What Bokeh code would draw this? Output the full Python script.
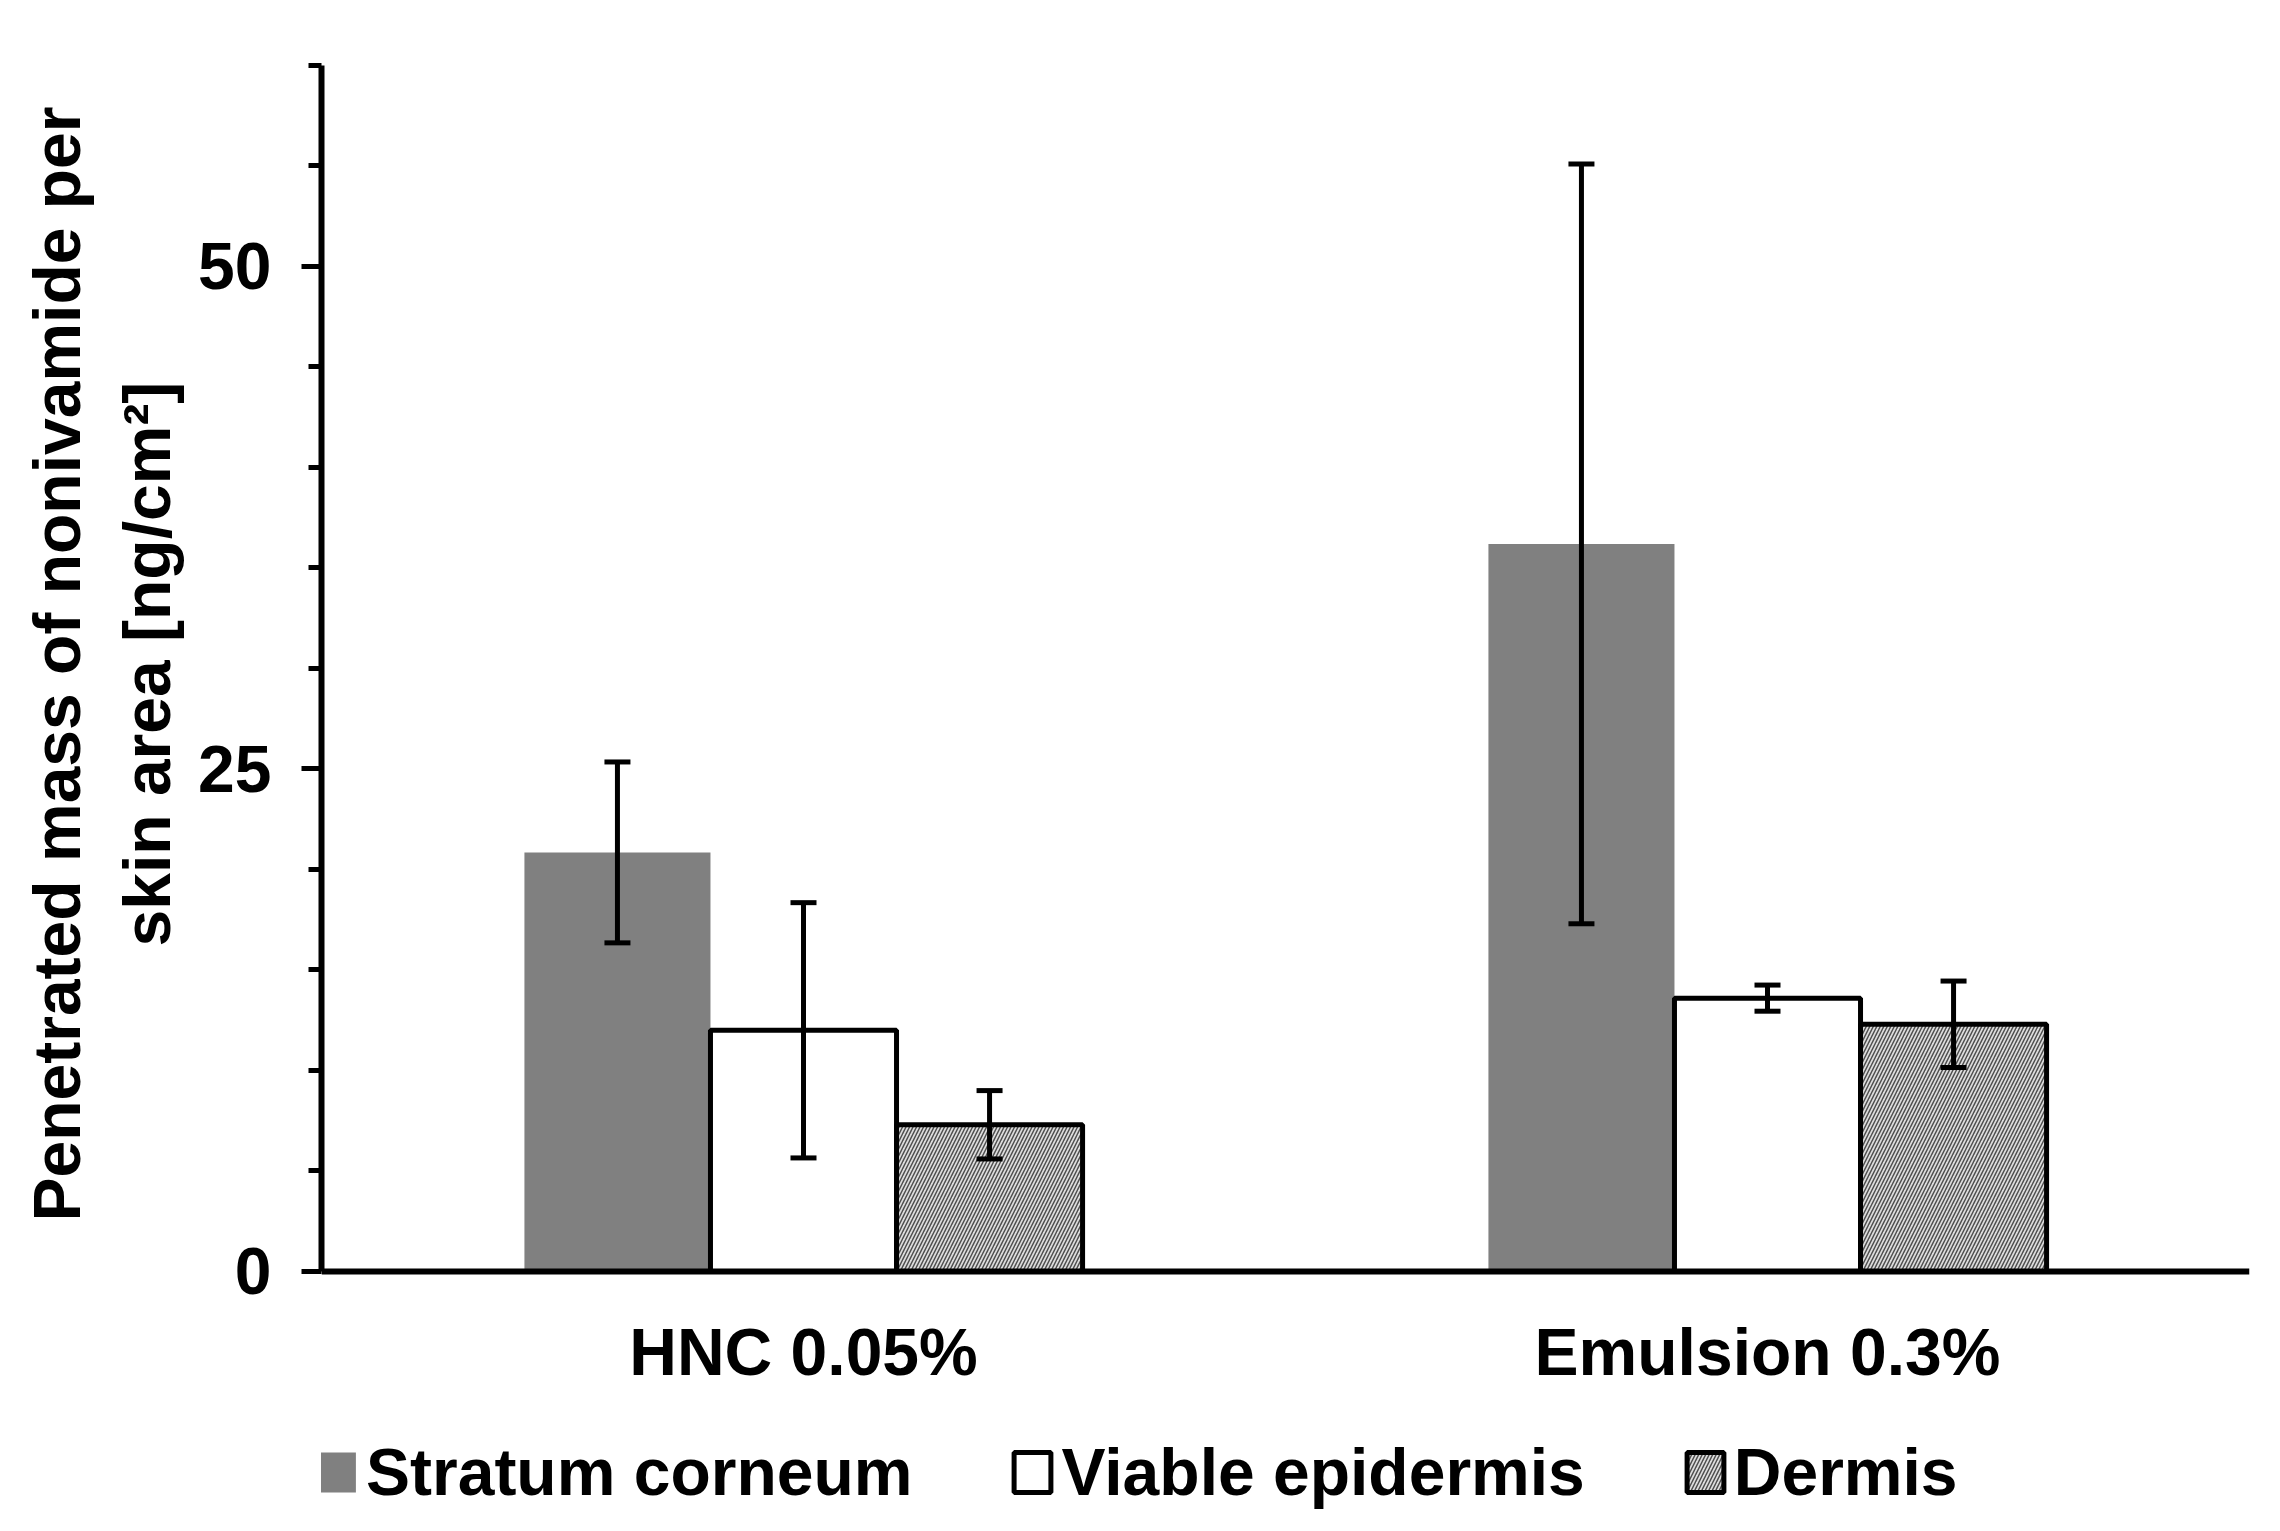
from bokeh.plotting import figure
from bokeh.models import (ColumnDataSource, FactorRange, Range1d, FixedTicker,
                          Whisker, TeeHead, Legend, LegendItem, Title)
from bokeh.transform import dodge
from bokeh.embed import file_html
from bokeh.resources import INLINE

# ---- data ----
categories = ["HNC 0.05%", "Emulsion 0.3%"]
stratum_corneum = [20.85, 36.2]
stratum_corneum_err = [4.5, 18.9]
viable_epidermis = [12.0, 13.6]
viable_epidermis_err = [6.35, 0.65]
dermis = [7.3, 12.3]
dermis_err = [1.7, 2.15]
y_ticks = [0, 25, 50]
y_minor = [5, 10, 15, 20, 30, 35, 40, 45, 55, 60]
y_max = 60
y_label_lines = ["Penetrated mass of nonivamide per", "skin area [ng/cm\u00b2]"]

FONT = "Liberation Sans"
FS = "66px"

src = ColumnDataSource(dict(
    cat=categories,
    sc=stratum_corneum,
    sc_up=[v + e for v, e in zip(stratum_corneum, stratum_corneum_err)],
    sc_lo=[v - e for v, e in zip(stratum_corneum, stratum_corneum_err)],
    ve=viable_epidermis,
    ve_up=[v + e for v, e in zip(viable_epidermis, viable_epidermis_err)],
    ve_lo=[v - e for v, e in zip(viable_epidermis, viable_epidermis_err)],
    de=dermis,
    de_up=[v + e for v, e in zip(dermis, dermis_err)],
    de_lo=[v - e for v, e in zip(dermis, dermis_err)],
))

# frame extends below zero so that category labels and legend sit inside it
p = figure(x_range=FactorRange(factors=categories, range_padding=0),
           y_range=Range1d(-12.04, y_max),
           width=2262, height=1513,
           output_backend="svg", toolbar_location=None,
           min_border_left=321, min_border_right=13,
           min_border_top=65, min_border_bottom=0)
p.outline_line_color = None
p.xgrid.visible = False
p.ygrid.visible = False
p.background_fill_color = "white"

W = 0.193
r_sc = p.vbar(x=dodge("cat", -W, range=p.x_range), top="sc", bottom=0, width=W, source=src,
              fill_color="#808080", line_color=None)
r_ve = p.vbar(x=dodge("cat", 0.0, range=p.x_range), top="ve", bottom=0, width=W, source=src,
              fill_color="white", line_color="black", line_width=5)
r_de = p.vbar(x=dodge("cat", W, range=p.x_range), top="de", bottom=0, width=W, source=src,
              fill_color="#dedede", line_color="black", line_width=5,
              hatch_pattern="right_diagonal_line", hatch_color="#505050",
              hatch_scale=7, hatch_weight=1.5)

for off, up, lo in [(-W, "sc_up", "sc_lo"), (0.0, "ve_up", "ve_lo"), (W, "de_up", "de_lo")]:
    wk = Whisker(source=src, base=dodge("cat", off, range=p.x_range), upper=up, lower=lo,
                 line_color="black", line_width=5, level="overlay",
                 upper_head=TeeHead(size=26, line_width=5, line_color="black"),
                 lower_head=TeeHead(size=26, line_width=5, line_color="black"))
    p.add_layout(wk)

# y axis
ya = p.yaxis[0]
ya.bounds = (0, y_max)
ya.ticker = FixedTicker(ticks=y_ticks, minor_ticks=y_minor)
ya.axis_line_width = 6
ya.major_tick_line_width = 5
ya.minor_tick_line_width = 5
ya.major_tick_out = 20
ya.major_tick_in = 0
ya.minor_tick_out = 13
ya.minor_tick_in = 0
ya.major_label_standoff = 30
ya.major_label_text_font = FONT
ya.major_label_text_font_style = "bold"
ya.major_label_text_font_size = FS
ya.major_label_text_color = "black"

# y axis title (two lines), positioned along the 0..60 part of the axis
for txt, off, so in [(y_label_lines[1], 567, 24), (y_label_lines[0], 292, 4)]:
    p.add_layout(Title(text=txt, align="left", offset=off, standoff=so,
                       text_font=FONT, text_font_style="bold",
                       text_font_size=FS, text_color="black"), "left")

# x axis, drawn at y = 0
xa = p.xaxis[0]
xa.fixed_location = 0
xa.axis_line_width = 6
xa.major_tick_line_color = None
xa.minor_tick_line_color = None
xa.major_tick_out = 0
xa.major_tick_in = 0
xa.major_label_standoff = 44
xa.major_label_text_font = FONT
xa.major_label_text_font_style = "bold"
xa.major_label_text_font_size = FS
xa.major_label_text_color = "black"

legend = Legend(items=[LegendItem(label="Stratum corneum", renderers=[r_sc]),
                       LegendItem(label="Viable epidermis", renderers=[r_ve]),
                       LegendItem(label="Dermis", renderers=[r_de])],
                orientation="horizontal", location=(-7, 3),
                glyph_width=46, glyph_height=50, label_standoff=6, spacing=97,
                padding=0, margin=0, border_line_color=None,
                background_fill_alpha=0,
                label_text_font=FONT, label_text_font_style="bold",
                label_text_font_size=FS, label_text_color="black")
p.add_layout(legend, "center")

open("out.html", "w").write(file_html(p, INLINE))
